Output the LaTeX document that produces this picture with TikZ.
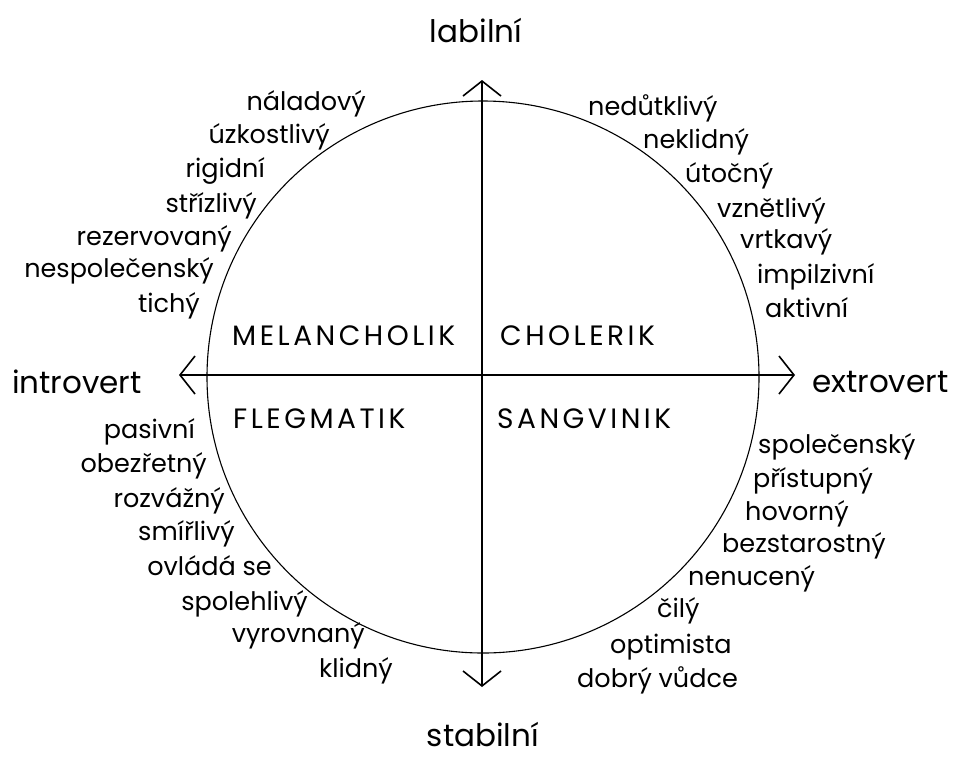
\documentclass[tikz,border=0pt]{standalone}
\usepackage{fontspec}
\setmainfont{Poppins}
\usetikzlibrary{arrows.meta}

\begin{document}
\begin{tikzpicture}[x=1pt, y=-1pt,
		vlastnost/.style={inner sep=0pt, font=\fontsize{25.5}{25.5}\selectfont},
		typ/.style={inner sep=0pt, font=\fontsize{28}{28}\selectfont\addfontfeature{LetterSpace=12.5}},
		osa/.style={inner sep=0pt, font=\fontsize{31}{31}\selectfont},
		sipka/.style={line width=1.6pt, {Straight Barb[length=15pt,width=38pt]}-{Straight Barb[length=15pt,width=38pt]}}]
		\useasboundingbox (0,0) rectangle (955,756);
		
		\coordinate (S) at (483,377);
		\coordinate (nahore) at (482,80);
		\coordinate (dole) at (482,687);
		\coordinate (vlevo) at (179,375);
		\coordinate (vpravo) at (795,375);
		
		\draw[line width=1.1pt] (S) circle (276pt);
		\draw[sipka] (dole) to (nahore);
		\draw[sipka] (vlevo) to (vpravo);
		
		\node[osa, anchor=base] (labilni) at (476,42) {labilní};
		\node[osa, anchor=base] (stabilni) at (483,746) {stabilní};
		\node[osa, anchor=base west] (introvert) at (12,393) {introvert};
		\node[osa, anchor=base west] (extrovert) at (812,392) {extrovert};
		
		\node[typ, anchor=base west] (melancholik) at (232,345) {MELANCHOLIK};
		\node[typ, anchor=base west] (cholerik) at (500,345) {CHOLERIK};
		\node[typ, anchor=base west] (flegmatik) at (233,428) {FLEGMATIK};
		\node[typ, anchor=base west] (sangvinik) at (497,428) {SANGVINIK};
		
		\node[vlastnost, anchor=base east] (m1) at (366,110) {náladový};
		\node[vlastnost, anchor=base east] (m2) at (330,143) {úzkostlivý};
		\node[vlastnost, anchor=base east] (m3) at (265,177) {rigidní};
		\node[vlastnost, anchor=base east] (m4) at (257,212) {střízlivý};
		\node[vlastnost, anchor=base east] (m5) at (232,245) {rezervovaný};
		\node[vlastnost, anchor=base east] (m6) at (214,277) {nespolečenský};
		\node[vlastnost, anchor=base east] (m7) at (200,312) {tichý};
		
		\node[vlastnost, anchor=base west] (c1) at (588,115) {nedůtklivý};
		\node[vlastnost, anchor=base west] (c2) at (643,148) {neklidný};
		\node[vlastnost, anchor=base west] (c3) at (685,182) {útočný};
		\node[vlastnost, anchor=base west] (c4) at (717,217) {vznětlivý};
		\node[vlastnost, anchor=base west] (c5) at (740,248) {vrtkavý};
		\node[vlastnost, anchor=base west] (c6) at (757,283) {impilzivní};
		\node[vlastnost, anchor=base west] (c7) at (765,317) {aktivní};
		
		\node[vlastnost, anchor=base east] (f1) at (195,438) {pasivní};
		\node[vlastnost, anchor=base east] (f2) at (207,472) {obezřetný};
		\node[vlastnost, anchor=base east] (f3) at (225,507) {rozvážný};
		\node[vlastnost, anchor=base east] (f4) at (235,540) {smířlivý};
		\node[vlastnost, anchor=base east] (f5) at (272,575) {ovládá se};
		\node[vlastnost, anchor=base east] (f6) at (308,610) {spolehlivý};
		\node[vlastnost, anchor=base east] (f7) at (365,642) {vyrovnaný};
		\node[vlastnost, anchor=base east] (f8) at (393,677) {klidný};
		
		\node[vlastnost, anchor=base west] (s1) at (758,453) {společenský};
		\node[vlastnost, anchor=base west] (s2) at (753,487) {přístupný};
		\node[vlastnost, anchor=base west] (s3) at (745,520) {hovorný};
		\node[vlastnost, anchor=base west] (s4) at (722,552) {bezstarostný};
		\node[vlastnost, anchor=base west] (s5) at (688,585) {nenucený};
		\node[vlastnost, anchor=base west] (s6) at (657,617) {čilý};
		\node[vlastnost, anchor=base west] (s7) at (610,653) {optimista};
		\node[vlastnost, anchor=base west] (s8) at (577,687) {dobrý vůdce};
		
	\end{tikzpicture}
\end{document}
